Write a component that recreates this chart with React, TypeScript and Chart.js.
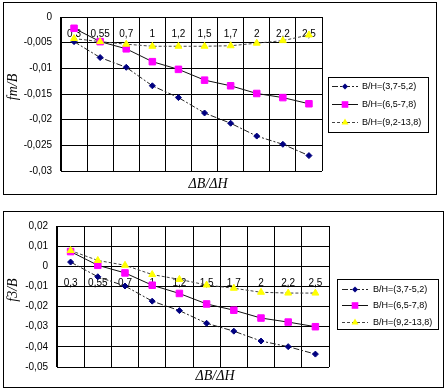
import React, { useEffect, useRef } from "react";
import { Chart, registerables } from "chart.js";

Chart.register(...registerables);

// ---- data ----
const categories = ["0,3", "0,55", "0,7", "1", "1,2", "1,5", "1,7", "2", "2,2", "2,5"];
const seriesNames = ["B/H=(3,7-5,2)", "B/H=(6,5-7,8)", "B/H=(9,2-13,8)"];

// top chart: fm/B
const fmLow = [-0.0048, -0.0079, -0.0098, -0.0134, -0.0157, -0.0187, -0.0207, -0.0232, -0.0248, -0.027];
const fmMid = [-0.0022, -0.0048, -0.0062, -0.0087, -0.0102, -0.0123, -0.0134, -0.0149, -0.0157, -0.0169];
const fmHigh = [-0.0042, -0.0048, -0.0053, -0.0057, -0.0057, -0.0057, -0.0056, -0.0051, -0.0046, -0.0035];

// bottom chart: f3/B
const f3Low = [0.0021, -0.0052, -0.0098, -0.0173, -0.022, -0.0283, -0.0322, -0.0371, -0.0399, -0.0436];
const f3Mid = [0.0073, 0.0005, -0.0033, -0.0094, -0.0135, -0.0187, -0.0218, -0.0257, -0.0277, -0.03];
const f3High = [0.0078, 0.0029, 0.0005, -0.0041, -0.0065, -0.0093, -0.0109, -0.0129, -0.0133, -0.0133];

// ---- styles ----
const seriesStyles = [
  { color: "#000080", line: "#222222", dash: [6, 2, 2, 2], point: "rectRot", radius: 3 },
  { color: "#FF00FF", line: "#111111", dash: [] as number[], point: "rect", radius: 4.6 },
  { color: "#FFFF00", line: "#444444", dash: [3, 2], point: "triangle", radius: 4 },
];

const TICK_FONT = { family: '"Liberation Sans", Arial, sans-serif', size: 10 };

function fmt(v: number): string {
  const r = Math.round(v * 1000) / 1000;
  return String(r === 0 ? 0 : r).replace(".", ",");
}

function drawMarker(ctx: CanvasRenderingContext2D, kind: string, x: number, y: number, color: string) {
  ctx.save();
  ctx.fillStyle = color;
  ctx.strokeStyle = color;
  ctx.setLineDash([]);
  ctx.beginPath();
  if (kind === "rectRot") {
    ctx.moveTo(x, y - 3);
    ctx.lineTo(x + 3, y);
    ctx.lineTo(x, y + 3);
    ctx.lineTo(x - 3, y);
    ctx.closePath();
  } else if (kind === "rect") {
    ctx.rect(x - 3.3, y - 3.3, 6.6, 6.6);
  } else {
    ctx.moveTo(x, y - 4);
    ctx.lineTo(x + 3.5, y + 2);
    ctx.lineTo(x - 3.5, y + 2);
    ctx.closePath();
  }
  ctx.fill();
  ctx.restore();
}

type PanelProps = {
  left: number;
  top: number;
  width: number;
  height: number;
  series: number[][];
  yMin: number;
  yMax: number;
  yStep: number;
  pad: { left: number; right: number; top: number; bottom: number };
  yTitle: string;
  yTitlePos: [number, number];
  xTitlePos: [number, number];
  legendBox: [number, number, number, number];
  legendRows: number[];
  legendLine: [number, number];
  legendTextX: number;
};

function Panel(p: PanelProps) {
  const ref = useRef<HTMLCanvasElement | null>(null);
  useEffect(() => {
    if (!ref.current) return;
    const decor = {
      id: "decor",
      afterDraw(chart: any) {
        const ctx: CanvasRenderingContext2D = chart.ctx;
        ctx.save();
        ctx.setLineDash([]);
        ctx.strokeStyle = "#000";
        ctx.lineWidth = 1;
        ctx.strokeRect(0.5, 0.5, p.width - 1, p.height - 1);
        ctx.fillStyle = "#000";
        ctx.font = 'italic 14px "Liberation Serif", "Times New Roman", serif';
        ctx.textAlign = "center";
        ctx.textBaseline = "middle";
        ctx.fillText("ΔB/ΔH", p.xTitlePos[0], p.xTitlePos[1]);
        ctx.save();
        ctx.translate(p.yTitlePos[0], p.yTitlePos[1]);
        ctx.rotate(-Math.PI / 2);
        ctx.fillText(p.yTitle, 0, 0);
        ctx.restore();
        const [bx, by, bw, bh] = p.legendBox;
        ctx.strokeRect(bx + 0.5, by + 0.5, bw, bh);
        ctx.font = '9px "Liberation Sans", Arial, sans-serif';
        ctx.textAlign = "left";
        seriesStyles.forEach((s, i) => {
          const y = p.legendRows[i];
          ctx.beginPath();
          ctx.setLineDash(s.dash);
          ctx.strokeStyle = s.line;
          ctx.moveTo(p.legendLine[0], y + 0.5);
          ctx.lineTo(p.legendLine[1], y + 0.5);
          ctx.stroke();
          ctx.setLineDash([]);
          drawMarker(ctx, s.point, (p.legendLine[0] + p.legendLine[1]) / 2, y + 0.5, s.color);
          ctx.fillStyle = "#000";
          ctx.fillText(seriesNames[i], p.legendTextX, y + 1);
        });
        ctx.restore();
      },
    };
    const chart = new Chart(ref.current, {
      type: "line",
      data: {
        labels: categories,
        datasets: p.series.map((vals, i) => ({
          label: seriesNames[i],
          data: vals,
          borderColor: seriesStyles[i].line,
          borderWidth: 1,
          borderDash: seriesStyles[i].dash,
          pointStyle: seriesStyles[i].point as any,
          pointRadius: seriesStyles[i].radius,
          pointBackgroundColor: seriesStyles[i].color,
          pointBorderColor: seriesStyles[i].color,
          pointBorderWidth: 1,
          fill: false,
          tension: 0,
          order: 3 - i,
        })),
      },
      options: {
        responsive: false,
        animation: false,
        devicePixelRatio: 1,
        events: [],
        layout: { padding: p.pad },
        plugins: { legend: { display: false }, tooltip: { enabled: false }, title: { display: false } },
        scales: {
          x: {
            type: "category",
            position: { y: 0 } as any,
            offset: true,
            grid: { offset: true, color: "#000", lineWidth: 1, drawTicks: false },
            border: { color: "#000", width: 1 },
            ticks: {
              color: "#000",
              font: TICK_FONT,
              padding: 11,
              autoSkip: false,
              maxRotation: 0,
              minRotation: 0,
            },
            afterFit: (s: any) => {
              s.height = 0;
            },
          },
          y: {
            type: "linear",
            min: p.yMin,
            max: p.yMax,
            grid: { color: "#000", lineWidth: 1, drawTicks: false },
            border: { color: "#000", width: 1 },
            ticks: {
              stepSize: p.yStep,
              color: "#000",
              font: TICK_FONT,
              padding: 9,
              callback: (v: any) => fmt(Number(v)),
            },
            afterFit: (s: any) => {
              s.width = 40;
            },
          },
        },
      },
      plugins: [decor],
    });
    return () => chart.destroy();
  }, []);
  return (
    <canvas
      ref={ref}
      width={p.width}
      height={p.height}
      style={{ position: "absolute", left: p.left, top: p.top, width: p.width, height: p.height }}
    />
  );
}

export default function App() {
  return (
    <div style={{ position: "absolute", left: 0, top: 0, width: 448, height: 391, background: "#fff", overflow: "hidden" }}>
      <Panel
        left={3}
        top={2}
        width={434}
        height={193}
        series={[fmLow, fmMid, fmHigh]}
        yMin={-0.03}
        yMax={0}
        yStep={0.005}
        pad={{ left: 18, right: 115, top: 13, bottom: 24 }}
        yTitle="fm/B"
        yTitlePos={[10, 85]}
        xTitlePos={[205, 182]}
        legendBox={[325, 75, 100, 55]}
        legendRows={[84, 102, 120]}
        legendLine={[329, 355]}
        legendTextX={359}
      />
      <Panel
        left={3}
        top={211}
        width={441}
        height={177}
        series={[f3Low, f3Mid, f3High]}
        yMin={-0.05}
        yMax={0.02}
        yStep={0.01}
        pad={{ left: 14, right: 115, top: 12, bottom: 21 }}
        yTitle="f3/B"
        yTitlePos={[10, 79]}
        xTitlePos={[212, 165]}
        legendBox={[334, 68, 101, 50]}
        legendRows={[78, 94, 111]}
        legendLine={[339, 365]}
        legendTextX={370}
      />
    </div>
  );
}
